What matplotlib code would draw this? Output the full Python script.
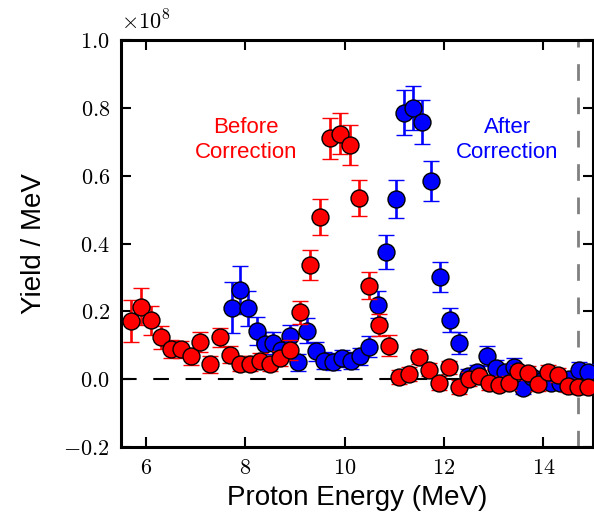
import numpy as np
import matplotlib
matplotlib.use('Agg')
import matplotlib.pyplot as plt
from matplotlib.ticker import FuncFormatter, MultipleLocator

# yields are in units of 1e8 per MeV
before_energy = [5.7, 5.9, 6.1, 6.3, 6.5, 6.7, 6.9, 7.1, 7.3, 7.5, 7.7, 7.9, 8.1, 8.3, 8.5,
                 8.7, 8.9, 9.1, 9.3, 9.5, 9.7, 9.9, 10.1, 10.3, 10.5, 10.7, 10.9, 11.1, 11.3,
                 11.5, 11.7, 11.9, 12.1, 12.3, 12.5, 12.7, 12.9, 13.1, 13.3, 13.5, 13.7, 13.9,
                 14.1, 14.3, 14.5, 14.7, 14.9]
before_yield = [0.172, 0.214, 0.173, 0.123, 0.089, 0.088, 0.067, 0.109, 0.044, 0.124, 0.072,
                0.046, 0.046, 0.055, 0.046, 0.062, 0.086, 0.197, 0.337, 0.478, 0.710, 0.724,
                0.690, 0.533, 0.276, 0.159, 0.099, 0.007, 0.015, 0.066, 0.028, -0.011, 0.035,
                -0.023, 0.001, 0.008, -0.012, -0.016, -0.012, 0.023, 0.018, -0.015, 0.022,
                0.013, -0.019, -0.024, -0.023]
before_err = [0.061, 0.055, 0.043, 0.034, 0.027, 0.025, 0.026, 0.030, 0.025, 0.028, 0.025,
              0.022, 0.022, 0.022, 0.022, 0.022, 0.030, 0.034, 0.044, 0.052, 0.060, 0.060,
              0.060, 0.053, 0.040, 0.032, 0.030, 0.020, 0.020, 0.020, 0.020, 0.020, 0.020,
              0.020, 0.020, 0.020, 0.020, 0.020, 0.020, 0.020, 0.020, 0.020, 0.020, 0.020,
              0.020, 0.020, 0.020]

after_energy = [7.73, 7.90, 8.06, 8.23, 8.40, 8.56, 8.73, 8.91, 9.07, 9.25, 9.42, 9.58, 9.77,
                9.94, 10.12, 10.31, 10.49, 10.67, 10.84, 11.03, 11.20, 11.38, 11.56, 11.74,
                11.93, 12.12, 12.30, 12.49, 12.67, 12.86, 13.04, 13.23, 13.41, 13.59, 13.78,
                13.96, 14.15, 14.33, 14.52, 14.71, 14.89]
after_yield = [0.211, 0.263, 0.209, 0.142, 0.104, 0.106, 0.085, 0.128, 0.050, 0.143, 0.083,
               0.054, 0.052, 0.062, 0.054, 0.067, 0.096, 0.219, 0.375, 0.531, 0.786, 0.800,
               0.758, 0.585, 0.301, 0.175, 0.107, 0.010, 0.022, 0.069, 0.032, 0.020, 0.037,
               -0.025, 0.005, -0.004, -0.010, -0.010, 0.000, 0.027, 0.021]
after_err = [0.075, 0.070, 0.052, 0.042, 0.035, 0.033, 0.030, 0.032, 0.025, 0.036, 0.028,
             0.025, 0.025, 0.025, 0.025, 0.026, 0.030, 0.040, 0.049, 0.057, 0.067, 0.065,
             0.065, 0.059, 0.045, 0.035, 0.032, 0.020, 0.020, 0.030, 0.025, 0.022, 0.025,
             0.020, 0.020, 0.020, 0.020, 0.020, 0.020, 0.025, 0.025]

cutoff_energy = 14.7

sans = ['Liberation Sans', 'DejaVu Sans']


def main():
    plt.rcParams['mathtext.fontset'] = 'cm'
    fig = plt.figure(figsize=(5.94, 5.19), dpi=100)
    ax = fig.add_axes([121 / 594, 72 / 519, 472 / 594, 407 / 519])

    ax.axhline(0, color='black', lw=1.5, ls=(0, (7.5, 8)), zorder=1)
    ax.axvline(cutoff_energy, color='#808080', lw=2, ls=(0, (6, 6)), zorder=1)

    # blue first so the red points sit on top
    ax.errorbar(after_energy, after_yield, yerr=after_err, fmt='o', color='#0000ff',
                mfc='#0000ff', mec='black', mew=1, ms=12.2, elinewidth=1.9,
                capsize=6, capthick=1.9, zorder=3)
    ax.errorbar(before_energy, before_yield, yerr=before_err, fmt='o', color='#ff0000',
                mfc='#ff0000', mec='black', mew=1, ms=12.2, elinewidth=1.9,
                capsize=6, capthick=1.9, zorder=4)

    ax.text(8.02, 0.705, 'Before\nCorrection', color='#ff0000', fontsize=16,
            family=sans, ha='center', va='center', linespacing=1.2)
    ax.text(13.27, 0.705, 'After\nCorrection', color='#0000ff', fontsize=16,
            family=sans, ha='center', va='center', linespacing=1.2)

    ax.set_xlim(5.5, 15)
    ax.set_ylim(-0.2, 1.0)
    ax.xaxis.set_major_locator(MultipleLocator(2))
    ax.yaxis.set_major_locator(MultipleLocator(0.2))
    ax.xaxis.set_major_formatter(FuncFormatter(lambda v, p: r'$%d$' % round(v)))
    ax.yaxis.set_major_formatter(FuncFormatter(lambda v, p: r'$%.1f$' % v))
    ax.tick_params(direction='in', length=7, width=1.5, labelsize=16, pad=8,
                   top=True, right=True)
    for s in ax.spines.values():
        s.set_linewidth(2.2)

    ax.text(0.0, 1.015, r'$\times10^{8}$', transform=ax.transAxes, fontsize=16,
            ha='left', va='bottom')

    ax.set_xlabel('Proton Energy (MeV)', fontsize=20, family=sans, labelpad=5)
    ax.set_ylabel('Yield / MeV', fontsize=20, family=sans, labelpad=12)

    fig.savefig('out.png', dpi=100)


if __name__ == "__main__":
    main()
